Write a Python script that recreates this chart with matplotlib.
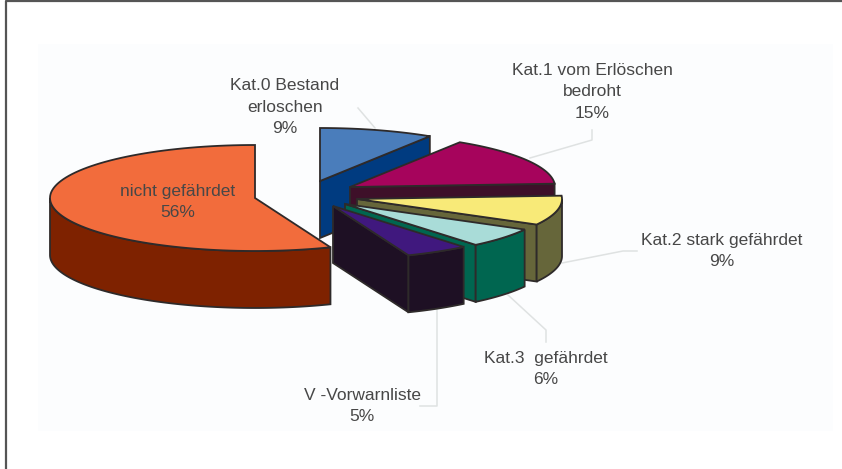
import numpy as np
import matplotlib
matplotlib.use("Agg")
import matplotlib.pyplot as plt
from matplotlib.patches import Polygon, Rectangle

# values in percent, clockwise from 12 o'clock
labels = ["Kat.0 Bestand\nerloschen", "Kat.1 vom Erlöschen\nbedroht", "Kat.2 stark gefährdet",
          "Kat.3  gefährdet", "V -Vorwarnliste", "nicht gefährdet"]
values = [9, 15, 9, 6, 5, 56]

top_colors = ["#4a7dbb", "#a6045c", "#f8ea78", "#a9dcd8", "#40187e", "#f26c3c"]
side_colors = ["#003b80", "#3e1029", "#66663a", "#006650", "#1e1024", "#7e2200"]

# pixel layout
centers = [(320, 181), (350, 187), (357, 199), (345, 204), (333, 206), (255, 198)]
label_pos = [(285, 107), (592, 92), (722, 251), (546, 369), (362, 406), (178, 202)]
leaders = [[(358, 108), (375, 128)],
           [(530, 158), (592, 140), (592, 130)],
           [(562, 263), (623, 251), (637, 251)],
           [(508, 295), (546, 330), (546, 342)],
           [(437, 310), (437, 406), (420, 406)]]
rx, ry, depth = 205, 53, 57
edge = "#2e2a2a"
text_color = "#474747"

fig = plt.figure(figsize=(8.42, 4.69), dpi=100)
ax = fig.add_axes([0, 0, 1, 1])
ax.set_xlim(0, 842)
ax.set_ylim(469, 0)
ax.axis("off")
plt.rcParams["font.family"] = "Liberation Sans"

ax.add_patch(Rectangle((38, 44), 795, 387, fc="#fcfdfe", ec="none", zorder=0))
ax.plot([5.5, 5.5, 842], [469, 1.5, 1.5], color="#555555", lw=1.6, zorder=1)

for pts in leaders:
    xs, ys = zip(*pts)
    ax.plot(xs, ys, color="#dfe2e2", lw=1.1, zorder=1)


def arc(c, a1, a2):
    t = np.radians(np.linspace(a1, a2, 100))
    return np.column_stack([c[0] + rx * np.cos(t), c[1] - ry * np.sin(t)])


def cut_face(c, a):
    p = arc(c, a, a)[0]
    return [c, tuple(p), (p[0], p[1] + depth), (c[0], c[1] + depth)]


ends = 90 - np.cumsum(values) * 3.6
starts = np.concatenate([[90], ends[:-1]])
order = [0, 1, 5, 2, 3, 4]

z = 2
for i in order:
    a1, a2 = starts[i], ends[i]
    c = centers[i]
    # faces on the cut side
    if np.cos(np.radians(a2)) > 1e-6:
        ax.add_patch(Polygon(cut_face(c, a2), fc=side_colors[i], ec=edge, lw=1.3, zorder=z))
    if np.cos(np.radians(a1)) < -1e-6:
        ax.add_patch(Polygon(cut_face(c, a1), fc=side_colors[i], ec=edge, lw=1.3, zorder=z))
    # outer wall, front half only
    hi = min(a1, 0)
    lo = max(a2, -180)
    if hi > lo:
        rim = arc(c, hi, lo)
        wall = np.vstack([rim, rim[::-1] + [0, depth]])
        ax.add_patch(Polygon(wall, fc=side_colors[i], ec=edge, lw=1.3, zorder=z))
    # top face
    top = np.vstack([[c], arc(c, a1, a2)])
    ax.add_patch(Polygon(top, fc=top_colors[i], ec=edge, lw=1.3, zorder=z))
    z += 1

for lab, v, pos in zip(labels, values, label_pos):
    ax.text(pos[0], pos[1], f"{lab}\n{v}%", ha="center", va="center", fontsize=12.5,
            color=text_color, linespacing=1.53, zorder=20)

fig.savefig("out.png", dpi=100)
